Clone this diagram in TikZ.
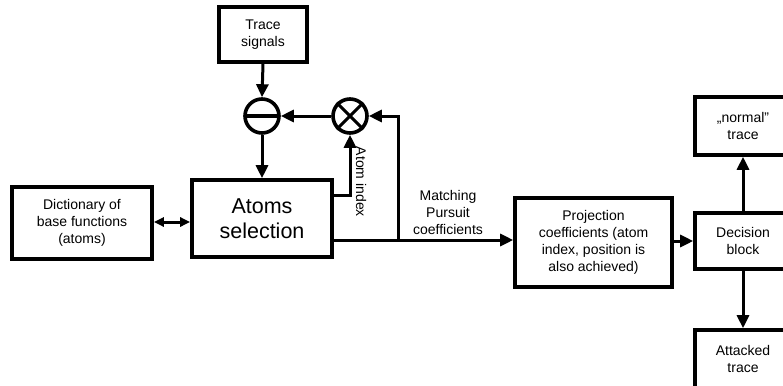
\documentclass[tikz,border=0pt]{standalone}
\usepackage{fontspec}
\setmainfont{Liberation Sans}
\usetikzlibrary{arrows.meta}

\begin{document}
\begin{tikzpicture}[x=1pt,y=-1pt,
  blk/.style={draw,line width=3.6pt,align=center,inner sep=0pt,
    font=\fontsize{14}{17}\selectfont},
  junc/.style={draw,circle,line width=3.6pt,minimum size=34pt,inner sep=0pt},
  arr/.style={line width=3pt,-{Triangle[length=13pt,width=12pt]}},
  darr/.style={line width=3pt,{Triangle[length=10pt,width=9pt]}-{Triangle[length=10pt,width=9pt]}},
  lbl/.style={align=center,inner sep=0pt,font=\fontsize{14}{17}\selectfont}]
\useasboundingbox (0,0) rectangle (783,385);
\clip (0,0) rectangle (783,385);

% blocks
\node[blk,minimum width=88pt,minimum height=55pt] (trace) at (263,34.5) {Trace\\signals};
\node[blk,minimum width=140pt,minimum height=72pt] (dict) at (82,223) {Dictionary of\\base functions\\(atoms)};
\node[blk,minimum width=140pt,minimum height=77pt,font=\fontsize{21.5}{24.5}\selectfont] (atoms) at (262,218.5) {Atoms\\selection};
\node[blk,minimum width=157pt,minimum height=89pt] (proj) at (593.5,242.5) {Projection\\coefficients (atom\\index, position is\\also achieved)};
\node[blk,minimum width=96pt,minimum height=56pt] (dec) at (743,241) {Decision\\block};
\node[blk,minimum width=96pt,minimum height=58pt] (normal) at (743,126) {\char"201E normal"\\trace};
\node[blk,minimum width=96pt,minimum height=58pt] (att) at (743,359) {Attacked\\trace};

% subtraction and multiplication junctions
\node[junc] (minus) at (262,116) {};
\draw[line width=4pt] ([xshift=3pt]minus.west) -- ([xshift=-3pt]minus.east);
\node[junc] (ot) at (350,116) {};
\draw[line width=3pt] (ot.north west) -- (ot.south east);
\draw[line width=3pt] (ot.north east) -- (ot.south west);

% helper coordinates for the taps on the right of the selection block
\coordinate (ai) at (0,195);
\coordinate (mp) at (0,240);
\coordinate (br) at (398,240);

% connectors
\draw[arr] (trace.south) -- (minus.north);
\draw[arr] (minus.south) -- (atoms.north -| minus.south);
\draw[arr] (ot.west) -- (minus.east);
\draw[arr] (atoms.east |- ai) -| (ot.south);
\draw[arr] (atoms.east |- mp) -- (proj.west |- mp);
\draw[arr] (br) |- (ot.east);
\draw[darr] (dict.east |- 0,222) -- (atoms.west |- 0,222);
\draw[arr] (proj.east |- dec.west) -- (dec.west);
\draw[arr] (dec.north) -- (normal.south);
\draw[arr] (dec.south) -- (att.north);

% labels
\node[lbl,rotate=-90] (ailbl) at (361,182) {Atom index};
\node[lbl] (mplbl) at (448,212) {Matching\\Pursuit\\coefficients};
\end{tikzpicture}
\end{document}
